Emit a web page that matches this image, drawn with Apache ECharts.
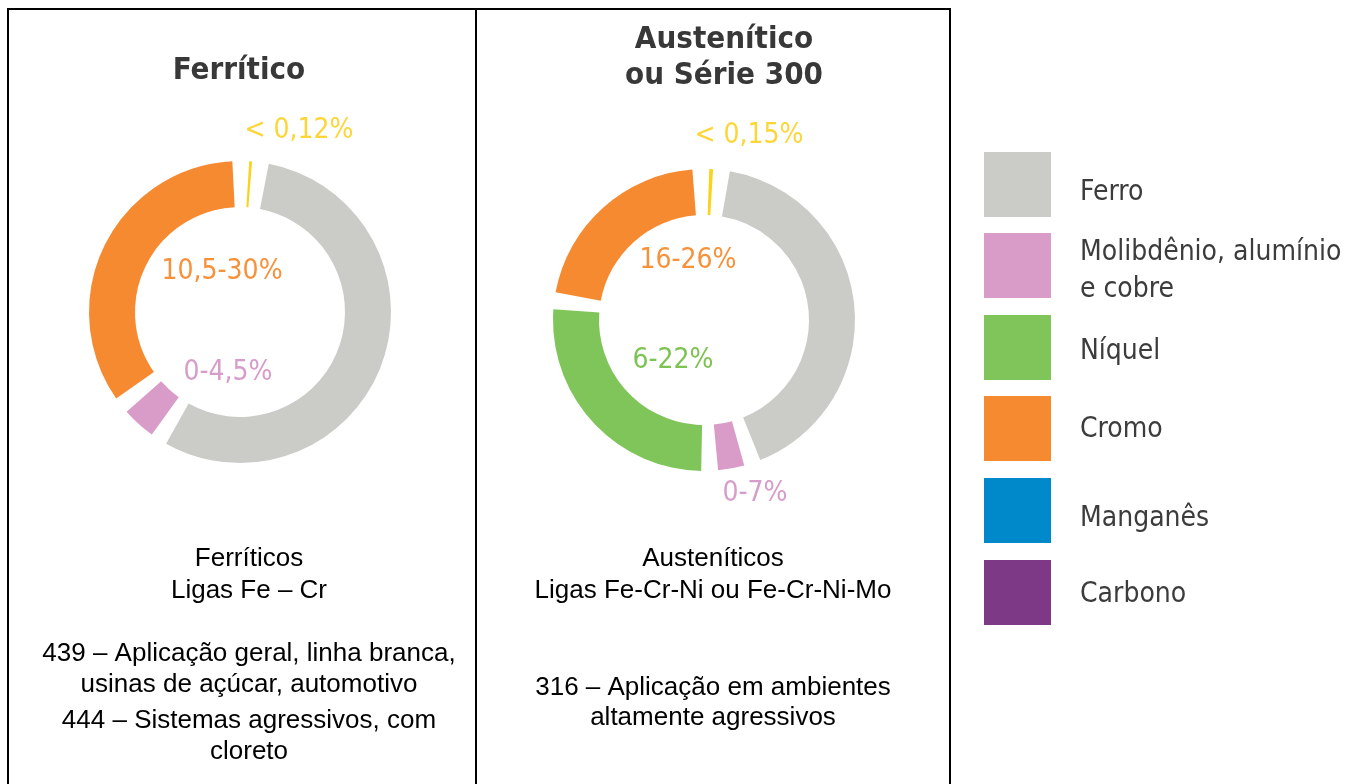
<!DOCTYPE html>
<html>
<head>
<meta charset="utf-8">
<style>
  html, body { margin: 0; padding: 0; background: #fff; }
  #chart { width: 1353px; height: 784px; }
</style>
<script src="https://cdn.jsdelivr.net/npm/echarts@6/dist/echarts.min.js"></script>
</head>
<body>
<div id="chart"></div>
<script>
const ferriticNames = ['Carbono', 'Ferro', 'Molibdênio, alumínio e cobre', 'Cromo'];
const ferriticValues = [0.3, 55.1, 3.6, 33.9];
const ferriticLabels = ['< 0,12%', '', '0-4,5%', '10,5-30%'];

const austeniticNames = ['Carbono', 'Ferro', 'Molibdênio, alumínio e cobre', 'Níquel', 'Cromo'];
const austeniticValues = [0.4, 41.1, 2.8, 25.8, 20.8];
const austeniticLabels = ['< 0,15%', '', '0-7%', '6-22%', '16-26%'];

const legendNames = ['Ferro', 'Molibdênio, alumínio\ne cobre', 'Níquel', 'Cromo', 'Manganês', 'Carbono'];

const ferriticText = ['Ferríticos', 'Ligas Fe – Cr'];
const ferriticUses = ['439 – Aplicação geral, linha branca,', 'usinas de açúcar, automotivo',
                      '444 – Sistemas agressivos, com', 'cloreto'];
const austeniticText = ['Austeníticos', 'Ligas Fe-Cr-Ni ou Fe-Cr-Ni-Mo'];
const austeniticUses = ['316 – Aplicação em ambientes', 'altamente agressivos'];

// styles
const GAP = 1.78;
const legendColors = ['#cbcbc7', '#d99cc8', '#80c55a', '#f68a31', '#0089ca', '#7d3886'];
const sliceColors = {
  'Ferro': '#cbcbc7',
  'Molibdênio, alumínio e cobre': '#d99cc8',
  'Níquel': '#80c55a',
  'Cromo': '#f68a31',
  'Carbono': '#f9d31c'
};
const labelColors = {
  'Molibdênio, alumínio e cobre': '#d79dca',
  'Níquel': '#7cc352',
  'Cromo': '#f7913a',
  'Carbono': '#fcd637'
};
const labelPos = {
  '< 0,12%': [299, 131], '0-4,5%': [228, 373], '10,5-30%': [222, 272],
  '< 0,15%': [749, 136], '0-7%': [755, 494], '6-22%': [673, 361], '16-26%': [688, 261]
};
const condensed = '"DejaVu Sans Condensed", "DejaVu Sans", sans-serif';
const arial = '"Liberation Sans", Arial, sans-serif';

function buildRing(names, values, labels) {
  const out = [];
  names.forEach(function (n, i) {
    out.push({
      name: n,
      value: values[i],
      itemStyle: { color: sliceColors[n] },
      label: { show: !!labels[i], formatter: labels[i], color: labelColors[n] }
    });
    out.push({ name: '', value: GAP, itemStyle: { color: 'rgba(0,0,0,0)' }, label: { show: false } });
  });
  return out;
}

function placeLabel(p) {
  const pos = labelPos[p.text];
  if (!pos) return {};
  return { x: pos[0], y: pos[1], align: 'center', verticalAlign: 'middle' };
}

function ring(center, startAngle, data) {
  return {
    type: 'pie',
    center: center,
    radius: [105, 151],
    startAngle: startAngle,
    silent: true,
    avoidLabelOverlap: false,
    label: { position: 'center', fontFamily: condensed, fontSize: 28 },
    labelLine: { show: false },
    labelLayout: placeLabel,
    data: data
  };
}

function textEl(text, x, y, font, fill, align) {
  return {
    type: 'text',
    style: { text: text, x: x, y: y, font: font, fill: fill, align: align || 'center', verticalAlign: 'middle' }
  };
}

const graphics = [
  { type: 'rect', shape: { x: 8, y: 9, width: 942, height: 800 }, style: { fill: 'none', stroke: '#000', lineWidth: 2 } },
  { type: 'line', shape: { x1: 476, y1: 9, x2: 476, y2: 790 }, style: { stroke: '#000', lineWidth: 2 } },
  textEl('Ferrítico', 239, 71, 'bold 31px ' + condensed, '#383838'),
  textEl('Austenítico', 724, 40, 'bold 31px ' + condensed, '#383838'),
  textEl('ou Série 300', 724, 76, 'bold 31px ' + condensed, '#383838')
];

const ferriticY = [559, 591, 654, 685, 721, 752];
ferriticText.concat(ferriticUses).forEach(function (t, i) {
  graphics.push(textEl(t, 249, ferriticY[i], '26px ' + arial, '#000'));
});
const austeniticY = [559, 591, 688, 718];
austeniticText.concat(austeniticUses).forEach(function (t, i) {
  graphics.push(textEl(t, 713, austeniticY[i], '26px ' + arial, '#000'));
});

// legend: swatch tops and the centre of each label's first line
const legendTop = [152, 233, 315, 396, 478, 560];
const legendTextY = [193, 253, 352, 430, 519, 595];
const legendLine = 37;
legendNames.forEach(function (n, i) {
  graphics.push({
    type: 'rect',
    shape: { x: 984, y: legendTop[i], width: 67, height: 65 },
    style: { fill: legendColors[i] }
  });
  graphics.push({
    type: 'text',
    style: {
      text: n, x: 1080, y: legendTextY[i] - legendLine / 2, font: '28px ' + condensed, fill: '#3c3c3c',
      align: 'left', verticalAlign: 'top', lineHeight: legendLine
    }
  });
});

const chart = echarts.init(document.getElementById('chart'));
chart.setOption({
  backgroundColor: '#fff',
  animation: false,
  series: [
    ring([240, 312], 86.5, buildRing(ferriticNames, ferriticValues, ferriticLabels)),
    ring([704, 320], 88, buildRing(austeniticNames, austeniticValues, austeniticLabels))
  ],
  graphic: graphics
});
</script>
</body>
</html>
